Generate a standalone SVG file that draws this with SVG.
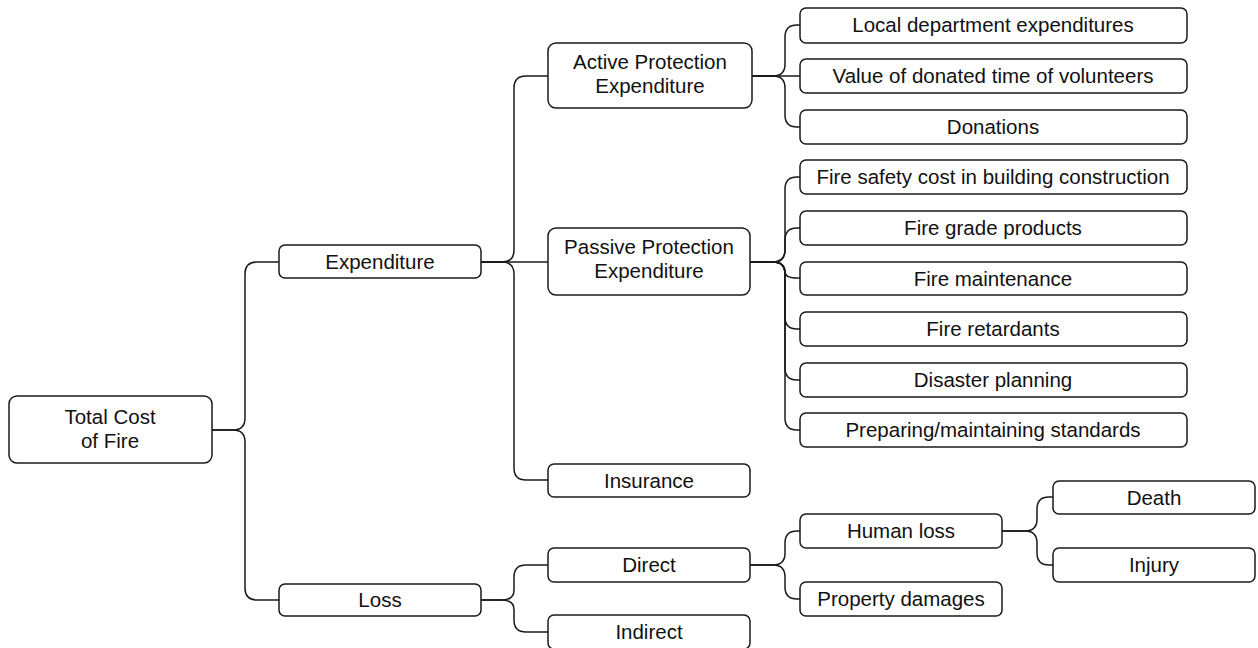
<svg xmlns="http://www.w3.org/2000/svg" width="1258" height="648" viewBox="0 0 1258 648">
<style>
.b{fill:#fff;stroke:#1a1a1a;stroke-width:1.5}
.t{font-family:"Liberation Sans",Arial,sans-serif;font-size:20.5px;fill:#111;text-anchor:middle}
.c{fill:none;stroke:#1a1a1a;stroke-width:1.5}
</style>
<rect width="1258" height="648" fill="#fff"/>
<g id="connectors">
<path class="c" d="M212,430 H233 Q245,430 245,418 V274 Q245,262 257,262 H279"/>
<path class="c" d="M212,430 H233 Q245,430 245,442 V588 Q245,600 257,600 H279"/>
<path class="c" d="M481,262 H502 Q514,262 514,250 V88 Q514,76 526,76 H548"/>
<path class="c" d="M481,262 H548"/>
<path class="c" d="M481,262 H502 Q514,262 514,274 V468 Q514,480 526,480 H548"/>
<path class="c" d="M481,600 H502 Q514,600 514,590 V577 Q514,565 526,565 H548"/>
<path class="c" d="M481,600 H502 Q514,600 514,610 V620 Q514,632 526,632 H548"/>
<path class="c" d="M752,76 H773 Q785,76 785,64 V37 Q785,25 797,25 H800"/>
<path class="c" d="M752,76 H800"/>
<path class="c" d="M752,76 H773 Q785,76 785,88 V115 Q785,127 797,127 H800"/>
<path class="c" d="M750,262 H773 Q785,262 785,250 V189 Q785,177 797,177 H800"/>
<path class="c" d="M750,262 H773 Q785,262 785,250 V240 Q785,228 797,228 H800"/>
<path class="c" d="M750,262 H773 Q785,262 785,272 V272 Q785,278 797,278 H800"/>
<path class="c" d="M750,262 H773 Q785,262 785,274 V317 Q785,329 797,329 H800"/>
<path class="c" d="M750,262 H773 Q785,262 785,274 V368 Q785,380 797,380 H800"/>
<path class="c" d="M750,262 H773 Q785,262 785,274 V418 Q785,430 797,430 H800"/>
<path class="c" d="M750,565 H773 Q785,565 785,553 V543 Q785,531 797,531 H800"/>
<path class="c" d="M750,565 H773 Q785,565 785,577 V587 Q785,599 797,599 H800"/>
<path class="c" d="M1002,531 H1025 Q1037,531 1037,519 V509 Q1037,497 1049,497 H1053"/>
<path class="c" d="M1002,531 H1025 Q1037,531 1037,543 V553 Q1037,565 1049,565 H1053"/>
</g>
<g id="n-root"><rect class="b" x="9" y="396" width="203" height="67" rx="8"/><text class="t" x="110" y="424">Total Cost</text><text class="t" x="110" y="448">of Fire</text></g>
<g id="n-expenditure"><rect class="b" x="279" y="245" width="202" height="33" rx="6"/><text class="t" x="380" y="269">Expenditure</text></g>
<g id="n-loss"><rect class="b" x="279" y="584" width="202" height="32" rx="6"/><text class="t" x="380" y="607">Loss</text></g>
<g id="n-active"><rect class="b" x="548" y="43" width="204" height="65" rx="8"/><text class="t" x="650" y="69">Active Protection</text><text class="t" x="650" y="93">Expenditure</text></g>
<g id="n-passive"><rect class="b" x="548" y="228" width="202" height="67" rx="8"/><text class="t" x="649" y="254">Passive Protection</text><text class="t" x="649" y="278">Expenditure</text></g>
<g id="n-insurance"><rect class="b" x="548" y="464" width="202" height="33" rx="6"/><text class="t" x="649" y="488">Insurance</text></g>
<g id="n-direct"><rect class="b" x="548" y="548" width="202" height="34" rx="6"/><text class="t" x="649" y="572">Direct</text></g>
<g id="n-indirect"><rect class="b" x="548" y="615" width="202" height="34" rx="6"/><text class="t" x="649" y="639">Indirect</text></g>
<g id="n-local"><rect class="b" x="800" y="8" width="387" height="35" rx="6"/><text class="t" x="993" y="32">Local department expenditures</text></g>
<g id="n-value"><rect class="b" x="800" y="59" width="387" height="34" rx="6"/><text class="t" x="993" y="83">Value of donated time of volunteers</text></g>
<g id="n-donations"><rect class="b" x="800" y="110" width="387" height="34" rx="6"/><text class="t" x="993" y="134">Donations</text></g>
<g id="n-safety"><rect class="b" x="800" y="160" width="387" height="34" rx="6"/><text class="t" x="993" y="184">Fire safety cost in building construction</text></g>
<g id="n-grade"><rect class="b" x="800" y="211" width="387" height="34" rx="6"/><text class="t" x="993" y="235">Fire grade products</text></g>
<g id="n-maint"><rect class="b" x="800" y="262" width="387" height="33" rx="6"/><text class="t" x="993" y="286">Fire maintenance</text></g>
<g id="n-retard"><rect class="b" x="800" y="312" width="387" height="34" rx="6"/><text class="t" x="993" y="336">Fire retardants</text></g>
<g id="n-disaster"><rect class="b" x="800" y="363" width="387" height="34" rx="6"/><text class="t" x="993" y="387">Disaster planning</text></g>
<g id="n-standards"><rect class="b" x="800" y="413" width="387" height="34" rx="6"/><text class="t" x="993" y="437">Preparing/maintaining standards</text></g>
<g id="n-human"><rect class="b" x="800" y="514" width="202" height="34" rx="6"/><text class="t" x="901" y="538">Human loss</text></g>
<g id="n-property"><rect class="b" x="800" y="582" width="202" height="34" rx="6"/><text class="t" x="901" y="606">Property damages</text></g>
<g id="n-death"><rect class="b" x="1053" y="481" width="202" height="33" rx="6"/><text class="t" x="1154" y="505">Death</text></g>
<g id="n-injury"><rect class="b" x="1053" y="548" width="202" height="34" rx="6"/><text class="t" x="1154" y="572">Injury</text></g>
</svg>
